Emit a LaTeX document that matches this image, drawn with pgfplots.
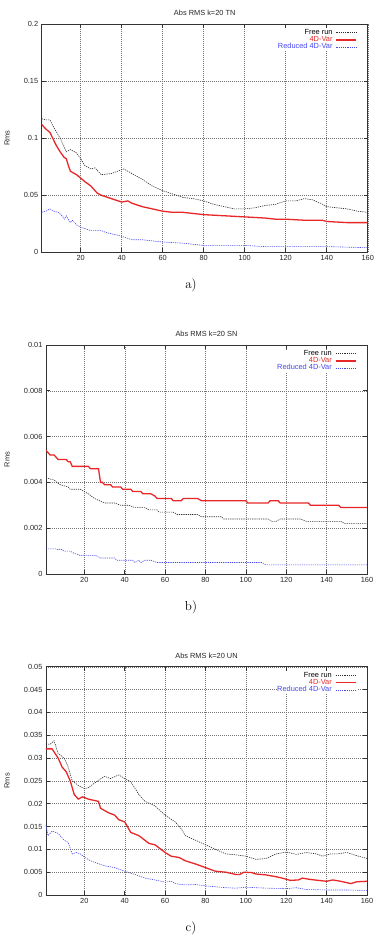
\documentclass[border=0pt]{standalone}
\usepackage{pgfplots}
\pgfplotsset{compat=1.18}
\usepackage{fontspec}
\newfontfamily\arial{Liberation Sans}
\definecolor{myred}{RGB}{232,40,40}
\definecolor{myblue}{RGB}{70,70,240}
\definecolor{mygray}{RGB}{45,45,45}
\pgfplotsset{
 myaxis/.style={
  scale only axis, anchor=south west,
  xmin=1, xmax=160, ymin=0,
  xtick={20,40,...,160},
  grid=major,
  major grid style={black!55, dash pattern=on 1pt off 1pt, line width=0.4pt},
  axis line style={black!80, line width=0.8pt},
  tick align=inside, major tick length=4pt,
  tick style={black!80, line width=0.6pt},
  ticklabel style={font=\arial\fontsize{7.4}{8}\selectfont, text=black!85},
  /pgf/number format/assume math mode=true,
  yticklabel style={/pgf/number format/fixed, /pgf/number format/precision=3},
  scaled y ticks=false,
  every axis title/.style={font=\arial\fontsize{7.4}{8}\selectfont, text=black!85, anchor=base, at={(axis description cs:0.5,1)}, yshift=8.5pt, inner sep=0pt},
  ylabel={Rms},
  ylabel style={font=\arial\fontsize{7.4}{8}\selectfont, text=black!85, at={(axis description cs:0,0.5)}, anchor=center},
  legend style={draw=none, fill=white, at={(axis description cs:1,1)}, anchor=north east, xshift=-10pt, yshift=-4.5pt, inner sep=0.5pt,
    font=\arial\fontsize{7.4}{8}\selectfont,
    nodes={inner sep=0.2pt, text height=5.2pt, text depth=1.6pt},
    /tikz/column sep=3pt},
  legend cell align=right, legend plot pos=right,
  legend image code/.code={\draw[#1] (0pt,0pt) -- (20pt,0pt);},
 },
 freerun/.style={mygray, line width=0.6pt, dash pattern=on 1.2pt off 1pt},
 fourd/.style={myred, line width=1.3pt},
 reduced/.style={myblue, line width=0.6pt, dash pattern=on 1.2pt off 1pt},
}
\begin{document}
\begin{tikzpicture}
\useasboundingbox (0pt,0pt) rectangle (378pt,935pt);
% ---------- a) ----------
\begin{axis}[myaxis, at={(41.7pt,682.7pt)}, width=326pt, height=228.3pt,
  ymax=0.2, ytick={0,0.05,0.1,0.15,0.2},
  title={Abs RMS k=20 TN}, ylabel style={yshift=34.7pt}]
\addplot[freerun] coordinates {(1,0.117)(3,0.116)(5,0.116)(7,0.109)(10,0.100)(13,0.088)(15,0.090)(18,0.087)(20,0.082)(22,0.076)(25,0.073)(27,0.074)(30,0.068)(35,0.069)(38,0.071)(41,0.073)(45,0.069)(50,0.064)(55,0.058)(60,0.054)(65,0.051)(70,0.048)(75,0.047)(80,0.045)(85,0.042)(90,0.040)(95,0.038)(100,0.038)(105,0.039)(110,0.041)(115,0.042)(120,0.045)(125,0.045)(129,0.047)(133,0.046)(137,0.043)(140,0.040)(145,0.039)(150,0.038)(155,0.036)(160,0.035)};
\addlegendentry{\textcolor{black}{Free run}}
\addplot[fourd] coordinates {(1,0.112)(3,0.108)(5,0.105)(8,0.094)(10,0.088)(12,0.083)(13,0.082)(14,0.076)(15,0.071)(18,0.068)(20,0.065)(22,0.062)(25,0.058)(28,0.052)(30,0.050)(35,0.047)(40,0.044)(43,0.045)(45,0.043)(50,0.040)(55,0.038)(60,0.036)(65,0.035)(70,0.035)(80,0.033)(90,0.032)(100,0.031)(110,0.030)(115,0.029)(120,0.029)(130,0.028)(138,0.028)(140,0.027)(150,0.026)(160,0.026)};
\addlegendentry{\textcolor{myred}{4D-Var}}
\addplot[reduced] coordinates {(1,0.035)(3,0.036)(5,0.038)(7,0.036)(9,0.035)(11,0.032)(12,0.029)(13,0.032)(14,0.029)(15,0.026)(16,0.028)(18,0.024)(20,0.022)(25,0.019)(28,0.019)(30,0.019)(33,0.017)(38,0.015)(40,0.014)(45,0.011)(50,0.011)(60,0.009)(70,0.008)(80,0.006)(100,0.006)(110,0.005)(120,0.005)(140,0.005)(160,0.004)};
\addlegendentry{\textcolor{myblue}{Reduced 4D-Var}}
\end{axis}
% ---------- b) ----------
\begin{axis}[myaxis, at={(46pt,361pt)}, width=321pt, height=229pt,
  ymax=0.01, ytick={0,0.002,0.004,0.006,0.008,0.01},
  title={Abs RMS k=20 SN}, ylabel style={yshift=39pt}]
\addplot[freerun] coordinates {(1,0.0042)(5,0.0041)(8,0.0039)(12,0.0038)(13,0.0037)(18,0.0037)(20,0.0036)(22,0.0035)(25,0.0033)(30,0.0031)(35,0.0031)(38,0.0030)(42,0.0030)(45,0.0029)(50,0.0029)(52,0.0028)(56,0.0028)(57,0.0027)(64,0.0027)(66,0.0026)(76,0.0026)(78,0.0025)(88,0.0025)(89,0.0024)(111,0.0024)(113,0.0023)(115,0.0023)(117,0.0024)(127,0.0024)(130,0.0023)(147,0.0023)(149,0.0022)(160,0.0022)};
\addlegendentry{\textcolor{black}{Free run}}
\addplot[fourd] coordinates {(1,0.0054)(3,0.0052)(5,0.0052)(6,0.0051)(7,0.0050)(11,0.0050)(12,0.0049)(13,0.0049)(14,0.0047)(22,0.0047)(23,0.0046)(27,0.0046)(28,0.0040)(29,0.0040)(30,0.0039)(33,0.0039)(34,0.0038)(38,0.0038)(39,0.0037)(43,0.0037)(44,0.0036)(48,0.0036)(49,0.0035)(53,0.0035)(55,0.0034)(56,0.0033)(63,0.0033)(64,0.0032)(68,0.0032)(69,0.0033)(76,0.0033)(78,0.0032)(100,0.0032)(101,0.0031)(111,0.0031)(112,0.0032)(116,0.0032)(117,0.0031)(131,0.0031)(132,0.0030)(146,0.0030)(147,0.0029)(160,0.0029)};
\addlegendentry{\textcolor{myred}{4D-Var}}
\addplot[reduced] coordinates {(1,0.0011)(6,0.0011)(7,0.00105)(8,0.0011)(10,0.0010)(13,0.0010)(15,0.0009)(17,0.00085)(18,0.0008)(26,0.0008)(28,0.0007)(35,0.0007)(36,0.0006)(44,0.0006)(45,0.0005)(47,0.0006)(48,0.0005)(50,0.0006)(53,0.0006)(56,0.0005)(108,0.0005)(110,0.0004)(160,0.0004)};
\addlegendentry{\textcolor{myblue}{Reduced 4D-Var}}
\end{axis}
% ---------- c) ----------
\begin{axis}[myaxis, at={(46pt,40pt)}, width=321pt, height=228.3pt,
  ymax=0.05, ytick={0,0.005,...,0.05},
  title={Abs RMS k=20 UN}, ylabel style={yshift=39pt}]
\addplot[freerun] coordinates {(1,0.0331)(3,0.033)(5,0.0338)(7,0.031)(10,0.030)(12,0.028)(14,0.025)(17,0.024)(20,0.0233)(22,0.0235)(25,0.0245)(30,0.026)(33,0.0255)(37,0.0263)(40,0.0255)(43,0.0248)(47,0.022)(50,0.0205)(55,0.0195)(60,0.0175)(65,0.016)(68,0.0145)(70,0.013)(75,0.012)(80,0.011)(85,0.010)(90,0.009)(95,0.0088)(100,0.0085)(105,0.0078)(110,0.008)(115,0.009)(120,0.0094)(125,0.0089)(130,0.0093)(135,0.009)(138,0.0085)(142,0.009)(145,0.009)(150,0.0093)(155,0.0086)(160,0.008)};
\addlegendentry{\textcolor{black}{Free run}}
\addplot[fourd] coordinates {(1,0.032)(4,0.032)(7,0.030)(9,0.028)(11,0.027)(13,0.025)(15,0.022)(17,0.021)(19,0.0215)(22,0.021)(27,0.0205)(28,0.019)(32,0.018)(35,0.0175)(37,0.0165)(40,0.016)(43,0.0137)(47,0.013)(52,0.0113)(55,0.011)(60,0.0093)(63,0.0085)(67,0.0082)(70,0.0075)(75,0.0068)(80,0.006)(85,0.0052)(90,0.005)(95,0.0045)(97,0.0045)(99,0.005)(103,0.0049)(105,0.0046)(110,0.0044)(115,0.004)(118,0.0037)(122,0.0032)(126,0.0033)(128,0.0037)(132,0.0034)(136,0.0032)(140,0.003)(143,0.0033)(147,0.003)(152,0.0025)(155,0.0029)(160,0.003)};
\addlegendentry{\textcolor{myred}{4D-Var}}
\addplot[reduced] coordinates {(1,0.0153)(2,0.013)(4,0.014)(7,0.0135)(10,0.012)(12,0.0115)(14,0.009)(16,0.0093)(18,0.009)(20,0.0083)(23,0.0075)(26,0.007)(30,0.0064)(35,0.006)(40,0.0052)(45,0.0045)(50,0.0037)(55,0.0033)(60,0.0028)(63,0.003)(65,0.0025)(70,0.0022)(75,0.0023)(80,0.002)(85,0.0018)(90,0.0016)(95,0.0015)(100,0.0017)(110,0.0015)(120,0.0014)(125,0.0016)(130,0.0012)(140,0.0011)(150,0.0011)(160,0.001)};
\addlegendentry{\textcolor{myblue}{Reduced 4D-Var}}
\end{axis}
\node[font=\fontsize{13}{15}\selectfont] at (191pt,650pt) {a)};
\node[font=\fontsize{13}{15}\selectfont] at (191pt,328pt) {b)};
\node[font=\fontsize{13}{15}\selectfont] at (191pt,7pt) {c)};
\end{tikzpicture}
\end{document}
